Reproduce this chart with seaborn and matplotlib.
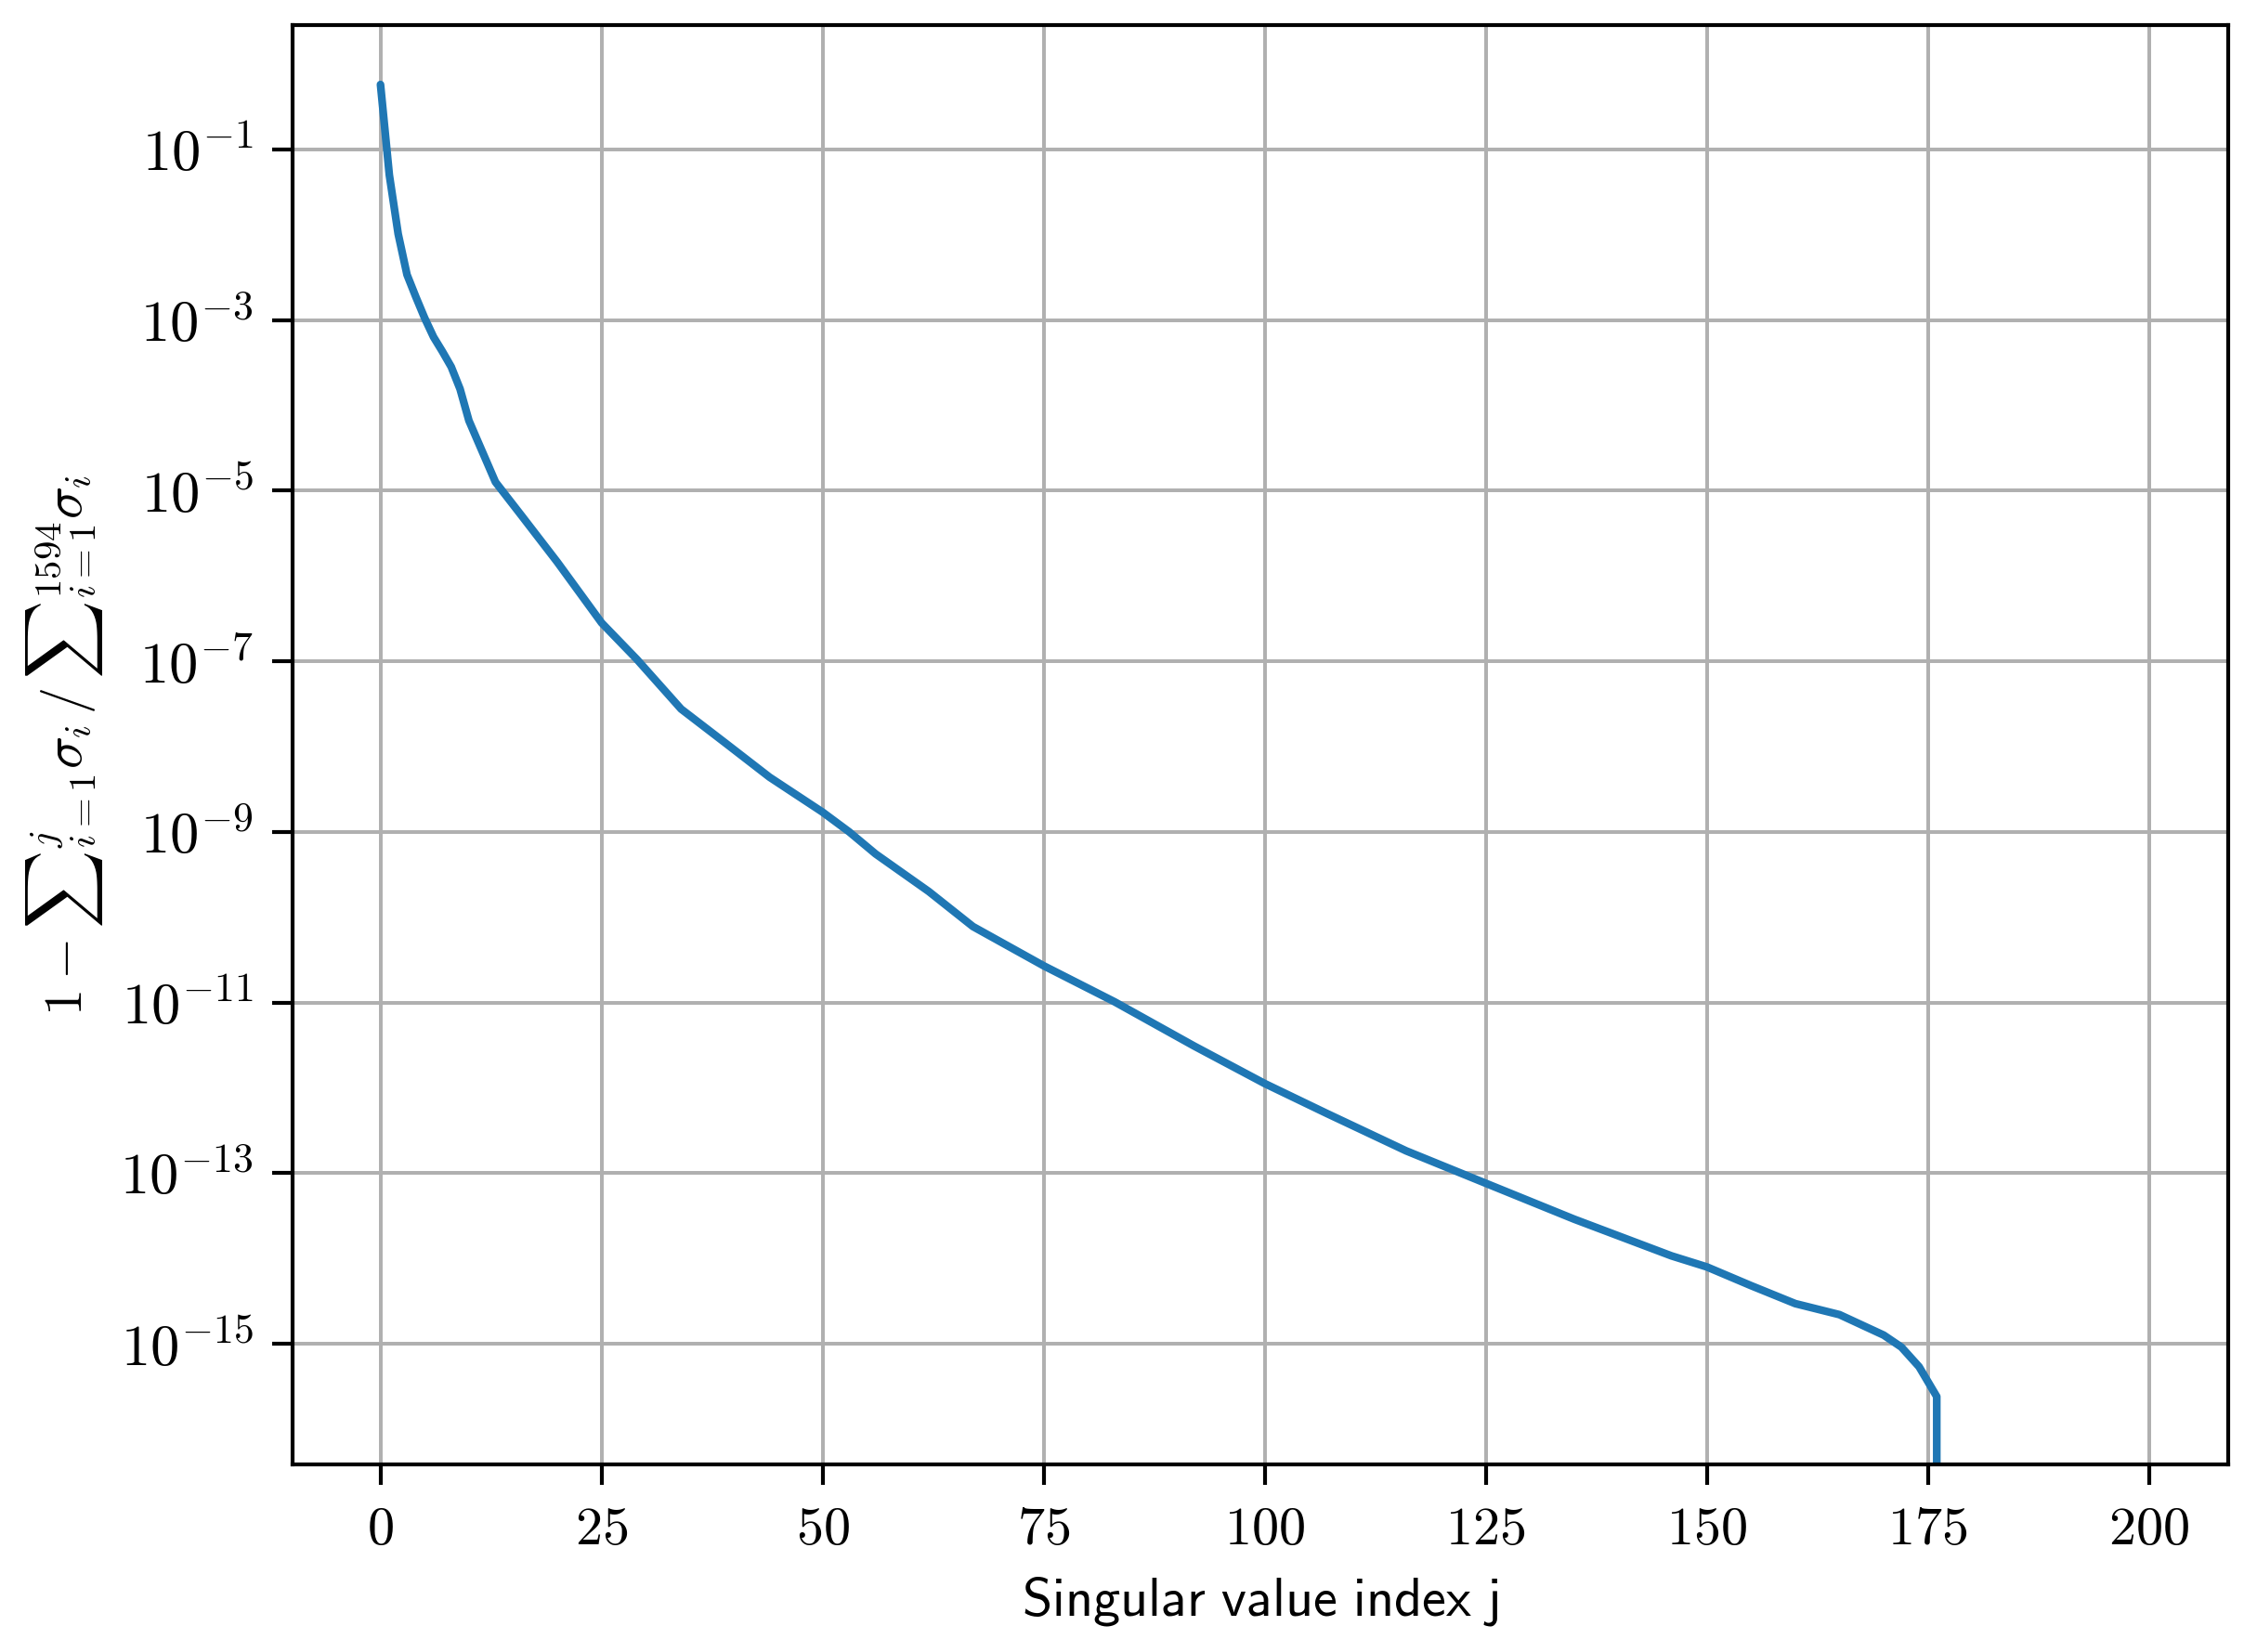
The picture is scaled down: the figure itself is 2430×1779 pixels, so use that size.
import numpy as np
import pandas as pd
import matplotlib
matplotlib.use("Agg")
import matplotlib.pyplot as plt
from matplotlib.ticker import FixedLocator, FuncFormatter, NullLocator
import seaborn as sns

# ---- data ----
j_index = [0, 1, 2, 3, 4, 5, 6, 7, 8, 9, 10, 11, 12, 13, 16, 20, 25, 29, 34, 39,
           44, 50, 53, 56, 62, 67, 75, 83, 92, 100, 107, 116, 125, 135, 146, 150,
           155, 160, 165, 170, 172, 174, 176, 177]
residual = [5.75e-1, 5.01e-2, 1.02e-2, 3.39e-3, 1.86e-3, 1.05e-3, 6.31e-4, 4.27e-4,
            2.82e-4, 1.55e-4, 6.61e-5, 3.80e-5, 2.19e-5, 1.26e-5, 5.01e-6, 1.45e-6,
            2.82e-7, 1.05e-7, 2.75e-8, 1.10e-8, 4.37e-9, 1.70e-9, 1.00e-9, 5.50e-10,
            2.00e-10, 7.76e-11, 2.69e-11, 1.02e-11, 3.09e-12, 1.12e-12, 5.01e-13,
            1.82e-13, 7.59e-14, 2.88e-14, 1.07e-14, 7.94e-15, 4.79e-15, 2.95e-15,
            2.19e-15, 1.26e-15, 9.12e-16, 5.37e-16, 2.40e-16, 0.0]
x_ticks = [0, 25, 50, 75, 100, 125, 150, 175, 200]
y_tick_exponents = [-1, -3, -5, -7, -9, -11, -13, -15]
x_label = r"$\mathsf{Singular\ value\ index\ j}$"
y_label = r"$1-{\sum}_{i=1}^{j}\sigma_i\,/\,{\sum}_{i=1}^{1594}\sigma_i$"

sns.set_theme(style="ticks")
plt.rcParams.update({
    "mathtext.fontset": "cm",
    "axes.edgecolor": "black",
    "axes.linewidth": 1.0,
    "xtick.color": "black",
    "ytick.color": "black",
    "text.color": "black",
    "axes.labelcolor": "black",
})
plt.rcParams["font.family"] = ["DejaVu Sans"]

fig = plt.figure(figsize=(8.1, 5.93), dpi=300)
ax = fig.add_axes([0.1296, 0.1133, 0.8576, 0.8715])

df = pd.DataFrame({"j": j_index, "residual": residual})
sns.lineplot(data=df, x="j", y="residual", ax=ax, color="#1f77b4",
             linewidth=2.0, errorbar=None)
ax.set_yscale("log")

ax.set_xlim(-9.95, 208.95)
ax.set_ylim(10 ** -16.42, 10 ** 0.456)

ax.xaxis.set_major_locator(FixedLocator(x_ticks))
ax.xaxis.set_major_formatter(FuncFormatter(lambda v, p: r"$%d$" % int(round(v))))
ax.yaxis.set_major_locator(FixedLocator([10.0 ** e for e in y_tick_exponents]))
ax.yaxis.set_major_formatter(FuncFormatter(lambda v, p: r"$10^{%d}$" % int(round(np.log10(v)))))
ax.yaxis.set_minor_locator(NullLocator())
ax.xaxis.set_minor_locator(NullLocator())

ax.grid(True, color="#b0b0b0", linewidth=0.95)
ax.set_axisbelow(True)
for s in ax.spines.values():
    s.set_visible(True)
    s.set_color("black")
    s.set_linewidth(1.0)

ax.tick_params(axis="both", which="major", length=5.2, width=1.0,
               direction="out", color="black")
ax.tick_params(axis="y", pad=5, labelsize=15)
ax.tick_params(axis="x", pad=4.5, labelsize=14)

ax.set_xlabel(x_label, fontsize=14, labelpad=5)
ax.set_ylabel(y_label, fontsize=14, labelpad=4)

fig.savefig("out.png", dpi=300)
